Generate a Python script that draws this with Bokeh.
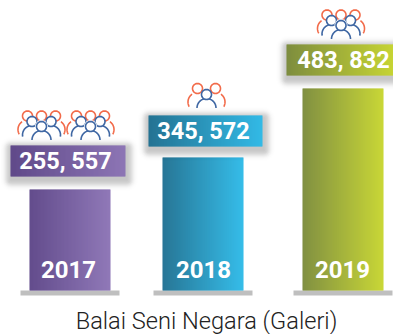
import math
from bokeh.plotting import figure
from bokeh.models import Range1d
from bokeh.core.properties import value
from bokeh.embed import file_html
from bokeh.resources import INLINE

years = ["2017", "2018", "2019"]
visitors = ["255, 557", "345, 572", "483, 832"]
bar_heights = [101, 133, 202]
chart_title = "Balai Seni Negara (Galeri)"

grad_start = ["#5b4386", "#1c6f90", "#7a8a38"]
grad_end = ["#8a72b4", "#2bb9e8", "#c6d52c"]
bar_left = [29, 162, 302]
base_left = [20, 153, 293]
box_left = [10, 148, 286]
box_right = [125, 262, 393]
box_top = [145, 115, 44]
label_x = [65, 203, 343]
year_x = [68, 203, 342]
BASE_Y = 290

p = figure(width=393, height=334, output_backend="svg", toolbar_location=None,
           x_range=Range1d(0, 393), y_range=Range1d(334, 0),
           min_border=0, outline_line_color=None, border_fill_color="white")
p.axis.visible = False
p.grid.visible = False


def mix(a, b, t):
    ca = [int(a[i:i + 2], 16) for i in (1, 3, 5)]
    cb = [int(b[i:i + 2], 16) for i in (1, 3, 5)]
    return "#%02x%02x%02x" % tuple(round(x + (y - x) * t) for x, y in zip(ca, cb))


def gradient(x0, x1, y0, y1, c0, c1):
    n = x1 - x0
    lefts = [x0 + i for i in range(n)]
    rights = [x0 + i + 1.4 if i < n - 1 else x0 + i + 1 for i in range(n)]
    cols = [mix(c0, c1, (i + .5) / n) for i in range(n)]
    p.quad(left=lefts, right=rights, top=[y0] * n, bottom=[y1] * n,
           fill_color=cols, line_color=None)


def shadow(x0, x1, y0, y1):
    for d in range(15, 0, -1):
        a = 0.032 * math.exp(-((d - 5) ** 2) / 18)
        p.quad(left=x0 - d + 1, right=x1 + d + 1, top=y0 - d + 3, bottom=y1 + d + 3,
               fill_color="#000000", fill_alpha=a, line_color=None, border_radius=d)


def ring(cx, cy, r, a0=0, a1=360):
    pts = [a0 + (a1 - a0) * i / 32 for i in range(33)]
    return [cx + r * math.cos(math.radians(a)) for a in pts], [cy + r * math.sin(math.radians(a)) for a in pts]


def person(cx, cy, color, a0=180, a1=360, fill=False):
    """Head and shoulder arc below it; y grows downward."""
    xs, ys = ring(cx, cy + 13.5, 9.5, a0, a1)
    p.line(xs, ys, line_color=color, line_width=1.6)
    xs, ys = ring(cx, cy, 5)
    if fill:
        p.patch(xs, ys, fill_color="white", line_color=color, line_width=1.6)
    else:
        p.line(xs, ys, line_color=color, line_width=1.6)


ORANGE = "#f26b4a"
BLUE = "#3f67a3"


def crowd(cx, top):
    person(cx - 14, top + 4.5, ORANGE, 150, 235)
    person(cx + 14, top + 4.5, ORANGE, 305, 390)
    person(cx, top + 4.5, ORANGE, 270, 270)
    person(cx - 9.5, top + 10, BLUE, 170, 300, fill=True)
    person(cx + 9.5, top + 10, BLUE, 240, 370, fill=True)
    xs, ys = ring(cx, top + 15, 6.5)
    p.patch(xs, ys, fill_color="white", line_color=None)
    person(cx, top + 15, BLUE, 180, 360, fill=True)


def duo(cx, top):
    person(cx - 9, top + 5, ORANGE, 150, 235, fill=True)
    person(cx + 9, top + 5, ORANGE, 305, 390, fill=True)
    person(cx, top + 11, BLUE, 180, 360, fill=True)


for i in range(3):
    p.quad(left=base_left[i], right=base_left[i] + 99, top=BASE_Y, bottom=BASE_Y + 5,
           fill_color="#bfbfbf", line_color=None)
    gradient(bar_left[i], bar_left[i] + 81, BASE_Y - bar_heights[i], BASE_Y, grad_start[i], grad_end[i])
    shadow(box_left[i], box_right[i], box_top[i], box_top[i] + 31)
    gradient(box_left[i], box_right[i], box_top[i], box_top[i] + 31, grad_start[i], grad_end[i])
    p.text([label_x[i]], [box_top[i] + 15.5], text=[visitors[i]],
           text_color="white", text_font=value("Roboto"), text_font_style="bold", text_font_size="23.5px",
           text_align="center", text_baseline="middle")
    p.text([year_x[i]], [BASE_Y - 21], text=[years[i]], text_color="white",
           text_font=value("Roboto"), text_font_style="bold", text_font_size="24px",
           text_align="center", text_baseline="middle")

crowd(41, 111)
crowd(90, 111)
duo(206, 83)
crowd(340.5, 10)

p.text([206], [320], text=[chart_title], text_color="#222222", text_font=value("Roboto Light"),
       text_font_size="23.6px", text_align="center", text_baseline="middle")

open("out.html", "w").write(file_html(p, INLINE))
